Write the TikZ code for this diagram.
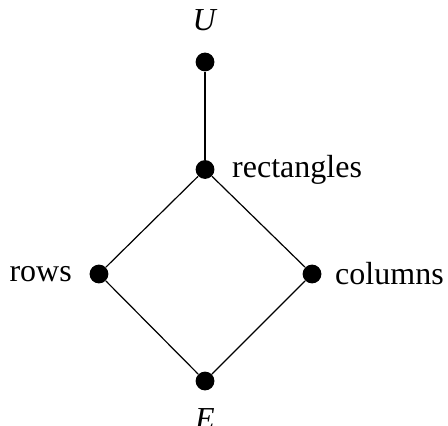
\documentclass[tikz,border=0pt]{standalone}
\usepackage{fontspec}
\setmainfont{Liberation Serif}
\usetikzlibrary{positioning}

\begin{document}
\begin{tikzpicture}[
    dot/.style={circle, fill=black, inner sep=0pt, minimum size=9.4pt},
    lbl/.style={inner sep=0pt, font=\fontsize{16}{19}\selectfont},
    thickedge/.style={line width=1pt},
    thinedge/.style={line width=0.6pt}
  ]
    \useasboundingbox (0,0) rectangle (7.871,7.467);

    % lattice points
    \node[dot, label={[lbl, label distance=10.5pt]above:\textit{U}}] (top) at (3.602, 6.378) {};
    \node[dot, label={[lbl, label distance=8.5pt]right:rectangles}] (rect) at (3.602, 4.489) {};
    \node[dot, label={[lbl, label distance=8.5pt]left:rows}] (rows) at (1.739, 2.653) {};
    \node[dot, label={[lbl, label distance=6.5pt]right:columns}] (cols) at (5.482, 2.653) {};
    \node[dot, label={[lbl, label distance=8.5pt]below:\textit{E}}] (bot) at (3.602, 0.773) {};

    % edges
    \draw[thickedge] (top) -- (rect);
    \draw[thinedge] (rect) -- (rows) -- (bot) -- (cols) -- (rect);
\end{tikzpicture}
\end{document}
